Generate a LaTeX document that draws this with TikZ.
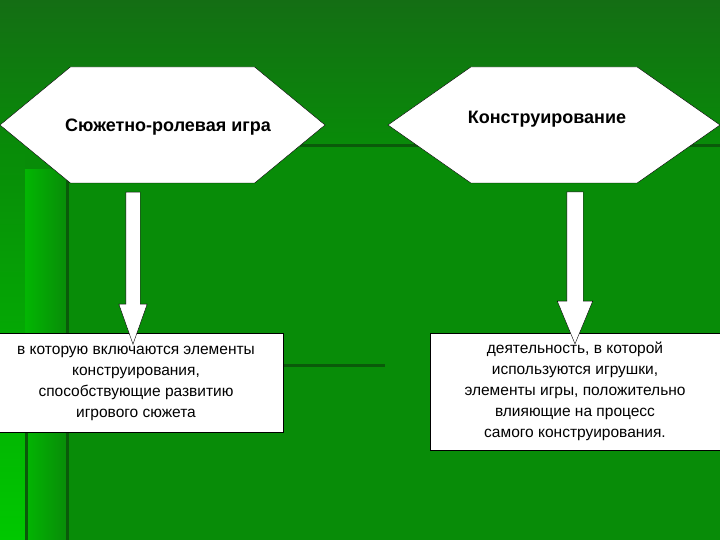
\documentclass[tikz,border=0pt]{standalone}
\usepackage{fontspec}
\setmainfont{Liberation Sans}
\usetikzlibrary{shapes.symbols,shapes.arrows,positioning,calc}
\definecolor{bgGreen}{RGB}{8,140,8}
\definecolor{bgDark}{RGB}{20,110,20}
\definecolor{bgLight}{RGB}{0,200,0}
\definecolor{lineDark}{RGB}{10,90,10}
\tikzset{
  hexBox/.style={
    signal,
    signal to=east and west,
    draw=black,
    fill=white,
    inner sep=0pt,
    minimum height=116pt,
    font=\fontsize{18}{21}\selectfont\bfseries
  },
  noteBox/.style={
    rectangle,
    draw=black,
    fill=white,
    inner sep=0pt,
    align=center,
    font=\fontsize{15.5}{21}\selectfont
  },
  fatArrow/.style={
    single arrow,
    shape border rotate=270,
    draw=black,
    fill=white,
    single arrow head indent=0pt
  }
}
\begin{document}
\begin{tikzpicture}[x=1pt,y=-1pt]
        \useasboundingbox (0,0) rectangle (720,540);
        % background
        \shade[top color=bgDark, bottom color=bgGreen] (0,0) rectangle (720,150);
        \fill[bgGreen] (0,150) rectangle (720,540);
        \shade[top color=bgGreen, bottom color=bgLight] (0,150) rectangle (25,540);
        \shade[left color=bgLight!70!bgGreen, right color=bgGreen] (25,170) rectangle (67,540);
        \draw[lineDark, line width=3pt] (67,175) -- (67,540);
        \draw[lineDark, line width=3pt] (26,430) -- (26,540);
        \draw[lineDark, line width=3pt] (300,146) -- (720,146);
        \draw[lineDark, line width=3pt] (283,365) -- (385,365);

        \node[hexBox, minimum width=325pt, signal pointer angle=79] (play) at (162.5,125) {};
        \node at (168,127) {\fontsize{18}{21}\selectfont\bfseries Сюжетно-ролевая игра};
        \node[hexBox, minimum width=332pt, signal pointer angle=70] (build) at (554,125) {};
        \node at (547,119) {\fontsize{18}{21}\selectfont\bfseries Конструирование};

        \node[noteBox, minimum width=285pt, minimum height=99pt] (playNote) at (140.5,382.5) {};
        \node[align=center, font=\fontsize{15.5}{21}\selectfont] at (136,383) {в которую включаются элементы\\конструирования,\\способствующие развитию\\игрового сюжета};
        \node[noteBox, minimum width=290pt, minimum height=117pt] (buildNote) at (575,391.5)
          {деятельность, в которой\\используются игрушки,\\элементы игры, положительно\\влияющие на процесс\\самого конструирования.};

        \path (play.south) ++(-29.5,0) coordinate (playTop) -- (playTop |- playNote.north)
          node[midway, fatArrow, minimum height=152pt, inner sep=7pt, single arrow head extend=7pt, single arrow tip angle=39] (playArrow) {};
        \path (build.south) ++(21,0) coordinate (buildTop) -- (buildTop |- buildNote.north)
          node[midway, fatArrow, minimum height=152pt, inner sep=8pt, single arrow head extend=9.5pt, single arrow tip angle=45] (buildArrow) {};

    \end{tikzpicture}
\end{document}
